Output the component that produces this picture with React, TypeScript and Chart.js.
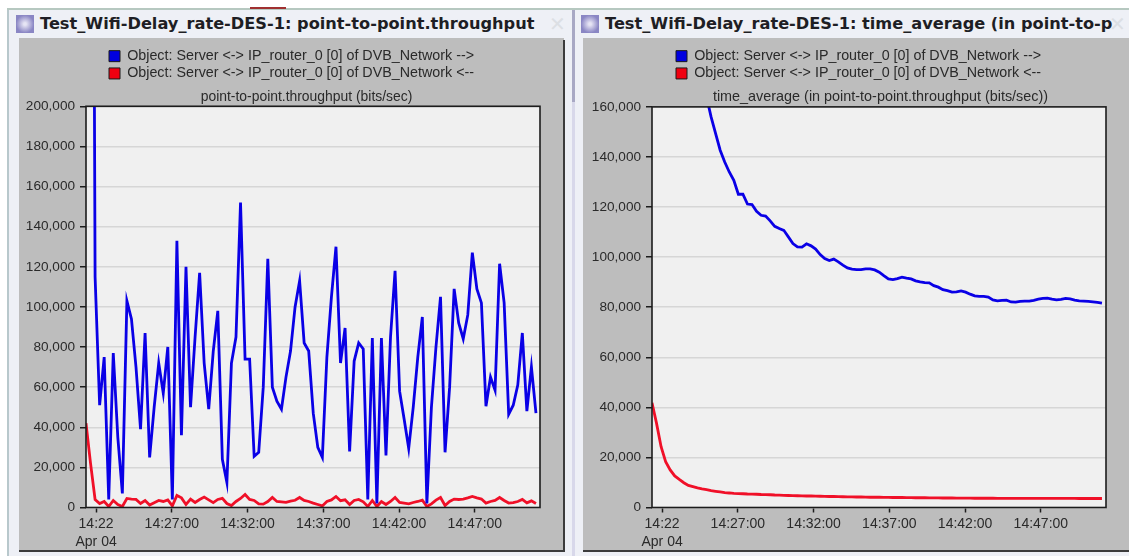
import React, { useEffect, useRef } from "react";
import { Chart, registerables } from "chart.js";

Chart.register(...registerables);

const sampleSeconds = [
  -40, -22, -4, 14, 32, 50, 68, 86, 104, 122,
  140, 158, 176, 194, 212, 230, 248, 266, 284, 302,
  320, 338, 356, 374, 392, 410, 428, 446, 464, 482,
  500, 518, 536, 554, 572, 590, 608, 626, 644, 662,
  680, 698, 716, 734, 752, 770, 788, 806, 824, 842,
  860, 878, 896, 914, 932, 950, 968, 986, 1004, 1022,
  1040, 1058, 1076, 1094, 1112, 1130, 1148, 1166, 1184, 1202,
  1220, 1238, 1256, 1274, 1292, 1310, 1328, 1346, 1364, 1382,
  1400, 1418, 1436, 1454, 1472, 1490, 1508, 1526, 1544, 1562,
  1580, 1598, 1616, 1634, 1652, 1670, 1688, 1706, 1724, 1742,
];

const throughputForward = [
  null, 700000, 115000, 51000, 75000, 4000, 77000, 35000, 7000, 103000,
  94000, 70000, 39000, 87000, 25000, 50000, 72000, 57000, 80000, 4000,
  133000, 36000, 120000, 50000, 85000, 117000, 72000, 49000, 78000, 98000,
  24000, 12500, 72000, 85000, 152000, 74000, 74000, 25500, 27500, 60000,
  124000, 60000, 53000, 49000, 65000, 78000, 100000, 113000, 82000, 78000,
  47000, 30000, 25000, 75000, 105000, 130000, 72000, 89500, 28000, 73000,
  82000, 79000, 4000, 84500, 2000, 84500, 26000, 85000, 118000, 58000,
  44000, 29500, 50000, 75000, 95000, 2000, 50000, 80000, 105000, 27500,
  60000, 109000, 92000, 84000, 96000, 127000, 109000, 102000, 50500, 65000,
  58500, 121500, 102000, 46500, 51000, 61000, 87000, 48000, 70000, 47000,
];

const throughputReverse = [
  42000, 22000, 4000, 2000, 3000, 500, 3500, 1500, 500, 4500,
  4200, 4000, 2000, 3500, 1200, 2400, 3500, 3000, 3800, 800,
  6000, 4800, 1500, 4200, 2500, 4000, 5200, 3800, 2400, 4000,
  4600, 2000, 1000, 3000, 4500, 6500, 4000, 3500, 1800, 1700,
  3000, 5000, 3000, 2800, 2600, 3200, 3600, 5000, 3500, 3000,
  2200, 1500, 800, 3000, 3800, 5500, 3400, 3800, 1500, 3500,
  4000, 2800, 500, 3500, 500, 3000, 1500, 3000, 5000, 2500,
  2200, 1800, 2500, 3000, 3700, 500, 1800, 3700, 5000, 1000,
  3000, 4200, 4000, 4200, 4800, 5500, 4800, 4200, 2200, 3000,
  3500, 5000, 3500, 2200, 2400, 3000, 4000, 2300, 3300, 2000,
];

const averageForward = [
  null, null, null, null, null, null, null, null, null, null,
  null, 171000, 164000, 156000, 149300, 142700, 138000, 134000, 130700, 125100,
  125100, 121200, 121000, 118300, 116700, 116400, 114500, 112300, 111400, 110700,
  108100, 105400, 104100, 104000, 105300, 104500, 103200, 101000, 99400, 98600,
  99200, 98100, 96800, 95700, 95200, 95000, 95000, 95300, 95300, 94900,
  94000, 92600, 91300, 91000, 91400, 92000, 91600, 91300, 90500, 90100,
  89800, 89700, 88600, 88000, 87000, 86600, 86000, 86100, 86500, 86000,
  85200, 84500, 84300, 84300, 84000, 82900, 82500, 82700, 82800, 82100,
  82000, 82300, 82400, 82400, 82700, 83200, 83500, 83600, 83200, 82900,
  83100, 83500, 83300, 82800, 82500, 82400, 82300, 82100, 81900, 81600,
];

const averageReverse = [
  41800, 33600, 24300, 18300, 15000, 12600, 11200, 9900, 8800, 8300,
  7800, 7400, 7100, 6700, 6450, 6200, 5900, 5800, 5650, 5550,
  5500, 5400, 5350, 5300, 5200, 5150, 5100, 5000, 4950, 4850,
  4800, 4750, 4700, 4650, 4600, 4600, 4550, 4500, 4450, 4400,
  4400, 4350, 4300, 4250, 4250, 4200, 4200, 4150, 4100, 4100,
  4100, 4050, 4050, 4000, 4000, 4000, 3950, 3950, 3900, 3900,
  3900, 3850, 3850, 3850, 3800, 3800, 3800, 3750, 3750, 3750,
  3750, 3700, 3700, 3700, 3700, 3700, 3650, 3650, 3650, 3650,
  3650, 3650, 3650, 3650, 3650, 3650, 3650, 3650, 3650, 3650,
  3650, 3650, 3650, 3650, 3600, 3600, 3600, 3600, 3600, 3600,
];

const seriesForwardLabel = "Object: Server <-> IP_router_0 [0] of DVB_Network -->";
const seriesReverseLabel = "Object: Server <-> IP_router_0 [0] of DVB_Network <--";
const xTickSeconds = [0, 300, 600, 900, 1200, 1500];
const xTickLabels = [["14:22", "Apr 04"], "14:27:00", "14:32:00", "14:37:00", "14:42:00", "14:47:00"];
const leftYTicks = [0, 20000, 40000, 60000, 80000, 100000, 120000, 140000, 160000, 180000, 200000];
const rightYTicks = [0, 20000, 40000, 60000, 80000, 100000, 120000, 140000, 160000];

const FONT = "'Liberation Sans', Arial, sans-serif";
const TEXT = "#2a2a2a";

function pairs(values: (number | null)[]) {
  return values.map((y, i) => ({ x: sampleSeconds[i], y }));
}

type PanelProps = {
  forward: (number | null)[];
  reverse: (number | null)[];
  yTicks: number[];
  title: string;
  titleSize: number;
  width: number;
  plotLeft: number;
  plotRightPad: number;
  titleShift: number;
  legendShift: number;
};

function Panel({ forward, reverse, yTicks, title, titleSize, width, plotLeft, plotRightPad, titleShift, legendShift }: PanelProps) {
  const ref = useRef<HTMLCanvasElement>(null);
  useEffect(() => {
    const framePlugin = {
      id: "plotFrame",
      afterLayout(chart: any) {
        if (chart.titleBlock) {
          chart.titleBlock.left += titleShift;
          chart.titleBlock.right += titleShift;
        }
        if (chart.legend) {
          chart.legend.left += legendShift;
          chart.legend.right += legendShift;
          chart.legend.top += 2;
          chart.legend.bottom += 2;
        }
      },
      beforeDraw(chart: any) {
        const { ctx, chartArea: a } = chart;
        ctx.save();
        ctx.fillStyle = "#f0f0f0";
        ctx.fillRect(a.left, a.top, a.right - a.left, a.bottom - a.top);
        ctx.restore();
      },
      afterDraw(chart: any) {
        const { ctx, chartArea: a } = chart;
        ctx.save();
        ctx.strokeStyle = "#1c1c1c";
        ctx.lineWidth = 1.6;
        ctx.strokeRect(a.left, a.top, a.right - a.left, a.bottom - a.top);
        ctx.restore();
      },
    };
    const chart = new Chart(ref.current as HTMLCanvasElement, {
      type: "line",
      data: {
        datasets: [
          {
            label: seriesForwardLabel,
            data: pairs(forward),
            borderColor: "#0a00e6",
            backgroundColor: "#0000e0",
            borderWidth: 2.8,
            pointRadius: 0,
            tension: 0,
            spanGaps: false,
          },
          {
            label: seriesReverseLabel,
            data: pairs(reverse),
            borderColor: "#f01028",
            backgroundColor: "#f00010",
            borderWidth: 2.8,
            pointRadius: 0,
            tension: 0,
          },
        ],
      } as any,
      options: {
        responsive: false,
        animation: false,
        layout: { padding: { top: 6, left: 0, right: plotRightPad, bottom: 0 } },
        plugins: {
          tooltip: { enabled: false },
          legend: {
            display: true,
            position: "top",
            weight: 3000,
            labels: {
              boxWidth: 11,
              boxHeight: 11,
              padding: 3,
              color: TEXT,
              font: { family: FONT, size: 14.3 },
              generateLabels(c: any) {
                return Chart.defaults.plugins.legend.labels.generateLabels(c).map((l: any) => ({
                  ...l,
                  strokeStyle: "#1a1a1a",
                  lineWidth: 1,
                }));
              },
            },
          },
          title: {
            display: true,
            text: title,
            color: TEXT,
            font: { family: FONT, size: titleSize, weight: "normal" },
            padding: { top: 0, bottom: 1 },
          },
        },
        scales: {
          x: {
            type: "linear",
            min: -40,
            max: 1758,
            afterFit(s: any) {
              s.height = 42.5;
            },
            afterBuildTicks(s: any) {
              s.ticks = xTickSeconds.map((value) => ({ value }));
            },
            border: { display: false },
            grid: { drawOnChartArea: false, drawTicks: true, tickLength: 5, tickColor: "#1c1c1c", tickWidth: 1.5 },
            ticks: {
              autoSkip: false,
              maxRotation: 0,
              padding: 3,
              color: TEXT,
              font: { family: FONT, size: 14, lineHeight: 1.25 },
              callback: (_v: any, i: number) => xTickLabels[i],
            },
          },
          y: {
            min: yTicks[0],
            max: yTicks[yTicks.length - 1],
            afterFit(s: any) {
              s.width = plotLeft;
            },
            afterBuildTicks(s: any) {
              s.ticks = yTicks.map((value) => ({ value }));
            },
            border: { display: false },
            grid: { color: "#d6d6d6", lineWidth: 1.5, tickLength: 6, tickColor: "#1c1c1c", tickWidth: 1.5 },
            ticks: {
              padding: 5,
              color: TEXT,
              font: { family: FONT, size: 13.6 },
              callback: (v: any) => Number(v).toLocaleString("en-US"),
            },
          },
        },
      } as any,
      plugins: [framePlugin as any],
    });
    return () => chart.destroy();
  }, []);
  return <canvas ref={ref} width={width} height={512} style={{ display: "block", width, height: 512 }} />;
}

function Box(props: { l: number; t: number; w: number; h: number; bg: string }) {
  return <div style={{ position: "absolute", left: props.l, top: props.t, width: props.w, height: props.h, background: props.bg }} />;
}

function TitleBar(props: { iconLeft: number; text: string; textLeft: number; closeLeft: number }) {
  return (
    <>
      <div
        style={{
          position: "absolute",
          left: props.iconLeft,
          top: 15,
          width: 18,
          height: 18,
          background: "radial-gradient(circle, #e6e4f4 10%, #8a86c4 70%)",
        }}
      />
      <div
        style={{
          position: "absolute",
          left: props.textLeft,
          top: 13,
          whiteSpace: "nowrap",
          font: "bold 16.2px 'DejaVu Sans', sans-serif",
          lineHeight: "22px",
          color: "#1e1e24",
        }}
      >
        {props.text}
      </div>
      <div
        style={{
          position: "absolute",
          left: props.closeLeft,
          top: 13,
          font: "20px 'DejaVu Sans', sans-serif",
          lineHeight: "22px",
          color: "#dcdfe4",
        }}
      >
        ✕
      </div>
    </>
  );
}

export default function App() {
  return (
    <div style={{ position: "absolute", left: 0, top: 0, width: 1129, height: 556, overflow: "hidden", background: "#ffffff" }}>
      <Box l={7} t={9} w={1122} h={547} bg="#eef0f6" />
      <Box l={7} t={8} w={1122} h={2} bg="#b6c8c0" />
      <Box l={250} t={7} w={36} h={2} bg="#a03030" />
      <Box l={7} t={10} w={2} h={546} bg="#b8c8cc" />
      <Box l={572} t={10} w={3} h={92} bg="#a8a8c4" />
      <Box l={572} t={102} w={3} h={454} bg="#d8d8ea" />
      <Box l={19} t={38} w={545} h={513} bg="#bdbdbd" />
      <Box l={563} t={40} w={2} h={512} bg="#3c3c3c" />
      <Box l={19} t={550} w={546} h={2} bg="#3c3c3c" />
      <Box l={583} t={38} w={546} h={513} bg="#bdbdbd" />
      <Box l={583} t={550} w={546} h={2} bg="#3c3c3c" />
      <TitleBar iconLeft={16} textLeft={40} closeLeft={549} text="Test_Wifi-Delay_rate-DES-1: point-to-point.throughput" />
      <TitleBar iconLeft={581} textLeft={605} closeLeft={1109} text="Test_Wifi-Delay_rate-DES-1: time_average (in point-to-p" />
      <div style={{ position: "absolute", left: 19, top: 38 }}>
        <Panel
          forward={throughputForward}
          reverse={throughputReverse}
          yTicks={leftYTicks}
          title="point-to-point.throughput (bits/sec)"
          titleSize={13.9}
          width={544}
          plotLeft={67}
          plotRightPad={23}
          titleShift={27}
          legendShift={12}
        />
      </div>
      <div style={{ position: "absolute", left: 583, top: 38 }}>
        <Panel
          forward={averageForward}
          reverse={averageReverse}
          yTicks={rightYTicks}
          title="time_average (in point-to-point.throughput (bits/sec))"
          titleSize={14.4}
          width={546}
          plotLeft={69}
          plotRightPad={23}
          titleShift={36}
          legendShift={14}
        />
      </div>
    </div>
  );
}
